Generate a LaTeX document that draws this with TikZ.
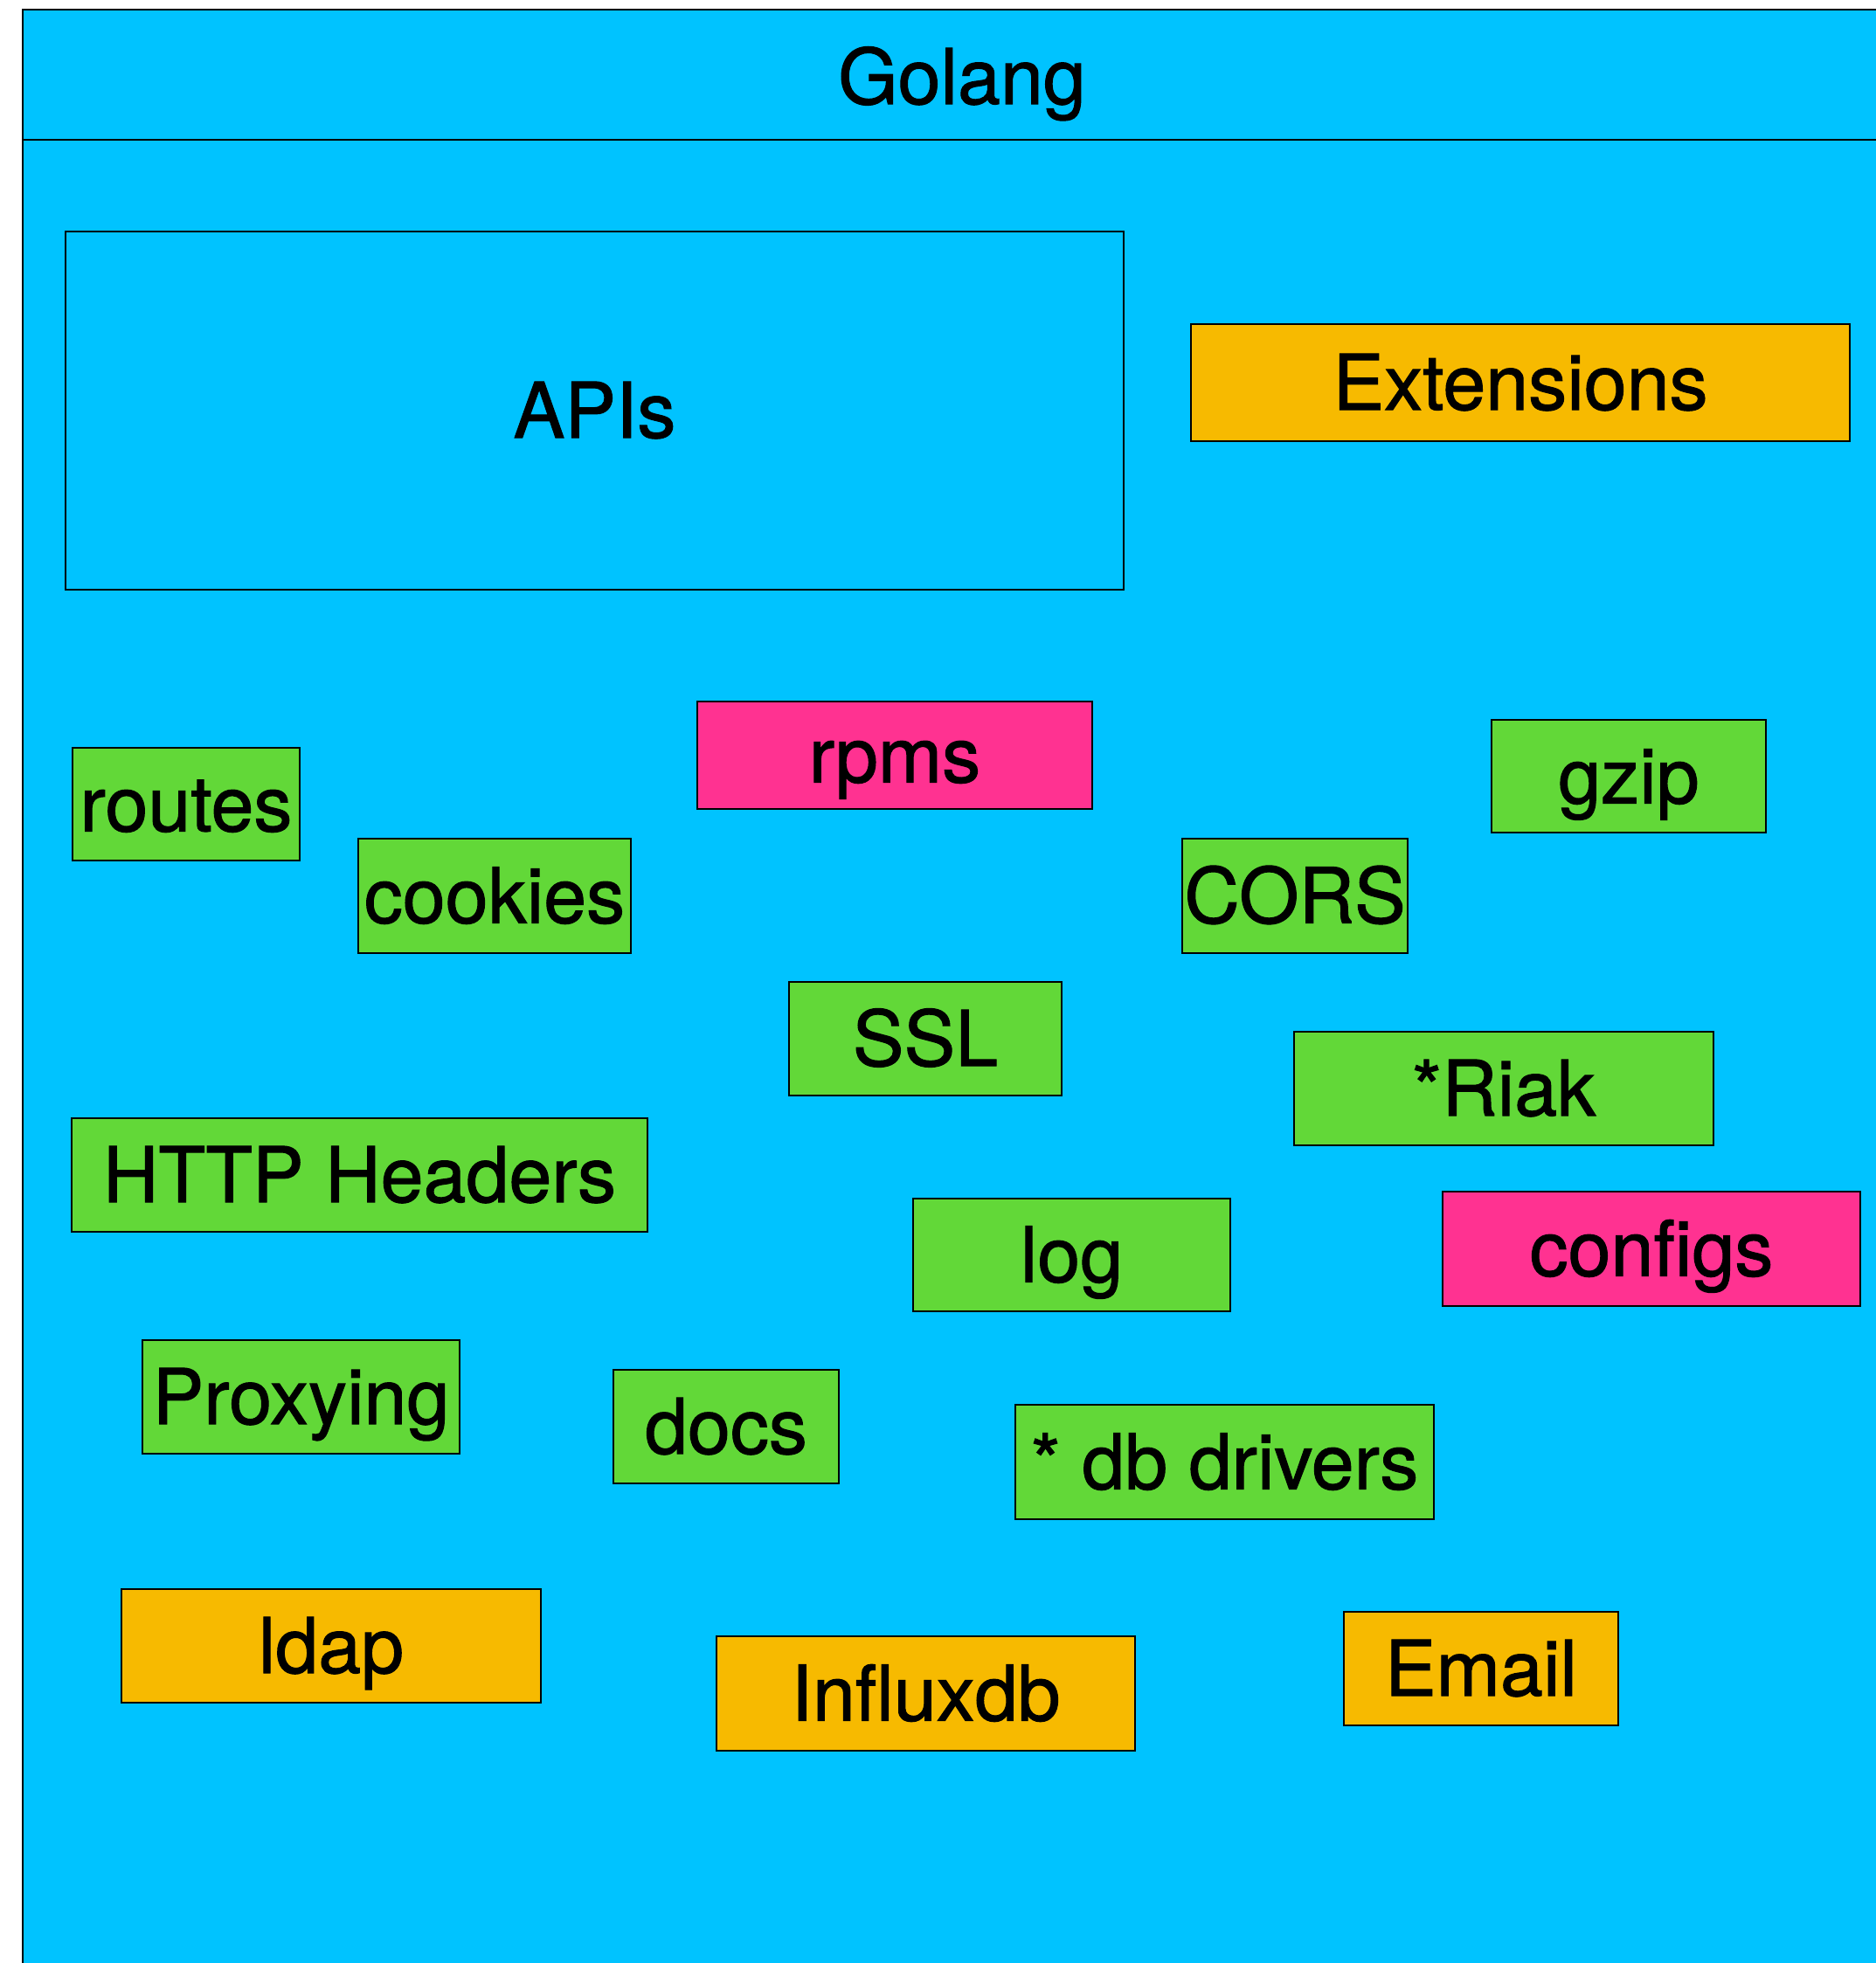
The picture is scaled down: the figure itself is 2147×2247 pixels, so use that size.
\documentclass[tikz,border=0pt]{standalone}
\usepackage{fontspec}
\setmainfont{TeX Gyre Heros}[FakeBold=1.2]
\definecolor{bgblue}{RGB}{0,195,255}
\definecolor{boxgreen}{RGB}{98,216,56}
\definecolor{boxpink}{RGB}{255,50,145}
\definecolor{boxorange}{RGB}{247,186,0}
\begin{document}
\begin{tikzpicture}[x=1pt,y=-1pt,
  lbl/.style={font=\fontsize{88}{100}\selectfont, text height=62pt, text depth=0pt, inner sep=0pt},
  card/.style={lbl, draw=black, line width=2.5pt, rectangle},
  gbox/.style={card, fill=boxgreen},
  pbox/.style={card, fill=boxpink},
  obox/.style={card, fill=boxorange}]
\useasboundingbox (0,0) rectangle (2147,2247);
\fill[bgblue] (26,11) rectangle (2147,2247);
\draw[line width=2.5pt] (2147,11) -- (26,11) -- (26,2247);
\draw[line width=2.5pt] (26,160) -- (2147,160);
\node[lbl] (golang) at (1101,88) {Golang};
\node[card, minimum width=1211pt, minimum height=410pt] (apis) at (680.5,470) {APIs};
\node[obox, minimum width=754pt, minimum height=134pt] (ext) at (1740,438) {Extensions};
\node[pbox, minimum width=452pt, minimum height=123pt] (rpms) at (1024,864.5) {rpms};
\node[gbox, minimum width=314pt, minimum height=129pt] (gzip) at (1864,888.5) {gzip};
\node[gbox, minimum width=260pt, minimum height=129pt] (routes) at (213,920.5) {routes};
\node[gbox, minimum width=312pt, minimum height=131pt] (cookies) at (566,1025.5) {cookies};
\node[gbox, minimum width=258pt, minimum height=131pt] (cors) at (1482,1025.5) {CORS};
\node[gbox, minimum width=312pt, minimum height=130pt] (ssl) at (1059,1189) {SSL};
\node[gbox, minimum width=480pt, minimum height=130pt] (riak) at (1721,1246) {*Riak};
\node[gbox, minimum width=659pt, minimum height=130pt] (http) at (411.5,1345) {HTTP Headers};
\node[gbox, minimum width=363pt, minimum height=129pt] (log) at (1226.5,1436.5) {log};
\node[pbox, minimum width=478pt, minimum height=131pt] (configs) at (1890,1429.5) {configs};
\node[gbox, minimum width=363pt, minimum height=130pt] (proxy) at (344.5,1599) {Proxying};
\node[gbox, minimum width=258pt, minimum height=130pt] (docs) at (831,1633) {docs};
\node[gbox, minimum width=479pt, minimum height=131pt] (db) at (1401.5,1673.5) {* db drivers};
\node[obox, minimum width=480pt, minimum height=130pt] (ldap) at (379,1884) {ldap};
\node[obox, minimum width=479pt, minimum height=131pt] (influx) at (1059.5,1938.5) {Influxdb};
\node[obox, minimum width=314pt, minimum height=130pt] (email) at (1695,1910) {Email};
\end{tikzpicture}
\end{document}
